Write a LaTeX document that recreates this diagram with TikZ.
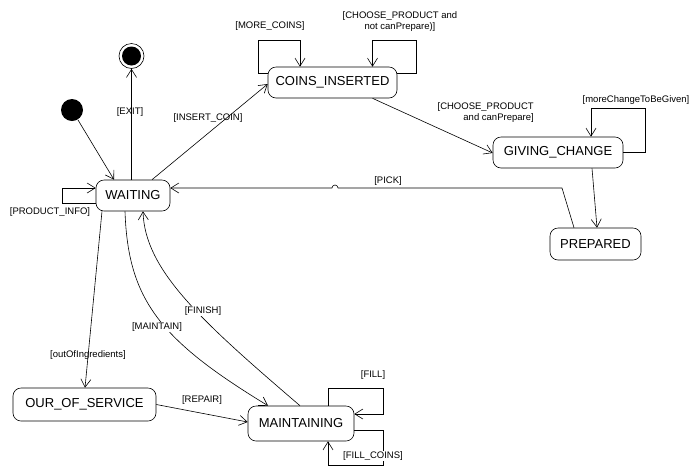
\documentclass[tikz,border=0pt]{standalone}
\usepackage{fontspec}
\setmainfont{Liberation Sans}
\usetikzlibrary{arrows.meta}

\begin{document}
\begin{tikzpicture}[x=1pt, y=-1pt, line width=0.6pt,
    state/.style={draw, rounded corners=8pt, inner sep=0pt, font=\fontsize{13}{15}\selectfont},
    lbl/.style={font=\fontsize{9.5}{11}\selectfont, inner sep=1pt},
    >={Straight Barb[length=8pt, width=10pt]}]
  \useasboundingbox (0,0) rectangle (698,475);

  % states
  \node (waiting) [state, minimum width=74pt, minimum height=31pt] at (133,195.5) {WAITING};
  \node (coins) [state, minimum width=129pt, minimum height=31pt] at (332.5,82.5) {COINS\_INSERTED};
  \node (change) [state, minimum width=130pt, minimum height=31pt] at (558,152.5) {GIVING\_CHANGE};
  \node (prepared) [state, minimum width=91pt, minimum height=32pt] at (595.5,244) {PREPARED};
  \node (service) [state, minimum width=143pt, minimum height=33pt] at (84.5,404.5) {OUR\_OF\_SERVICE};
  \node (maint) [state, minimum width=106pt, minimum height=35pt] at (301,423.5) {MAINTAINING};
  \node (init) [circle, fill, inner sep=0pt, minimum size=22pt] at (72,110) {};
  \node (final) [circle, draw, inner sep=0pt, minimum size=25pt] at (131.5,56) {};
  \fill (final.center) circle[radius=9.5pt];

  % labels
  \node (exitlbl) [lbl, fill=white] at (130,112) {[EXIT]};
  \node (insertlbl) [lbl, fill=white] at (208,118) {[INSERT\_COIN]};
  \node (morelbl) [lbl] at (270,26) {[MORE\_COINS]};
  \node (notlbl) [lbl, align=center] at (400,22) {[CHOOSE\_PRODUCT and\\not canPrepare)]};
  \node (canlbl) [lbl, align=right, anchor=east] at (535,113) {[CHOOSE\_PRODUCT\\and canPrepare]};
  \node (givenlbl) [lbl] at (636,100) {[moreChangeToBeGiven]};
  \node (picklbl) [lbl] at (388,181) {[PICK]};
  \node (infolbl) [lbl] at (50,212) {[PRODUCT\_INFO]};
  \node (outlbl) [lbl] at (88,355) {[outOfIngredients]};
  \node (repairlbl) [lbl] at (202,400) {[REPAIR]};
  \node (filllbl) [lbl] at (373,375) {[FILL]};

  % transitions
  \draw[->] (init) -- ([xshift=-19pt]waiting.north);
  \draw[->] (waiting.north -| final) -- (final);
  \draw[->] ([xshift=19pt]waiting.north) -- ([yshift=-1.5pt]coins.west);
  \draw[->] ([yshift=9pt]coins.west) -| (258,40) -| ([xshift=-32.5pt]coins.north);
  \draw[->] ([yshift=9pt]coins.east) -| (416,40) -| ([xshift=40pt]coins.north);
  \draw[->] ([xshift=40pt]coins.south) -- ([yshift=-0.5pt]change.west);
  \draw[->] (change.east) -| (645,108) -| ([xshift=33pt]change.north);
  \draw[->] ([xshift=34pt]change.south) -- ([xshift=1.5pt]prepared.north);
  \draw[->] ([xshift=-21.5pt]prepared.north) -- (562,188) -- (338,188)
    arc[start angle=0, end angle=180, radius=3pt] -- ([yshift=7.5pt]waiting.east);
  \draw[->] ([yshift=-7.5pt]waiting.west) -| (62,188) -- ([yshift=7.5pt]waiting.west);
  \draw[->] ([xshift=-31pt]waiting.south) -- ([xshift=0.5pt]service.north);
  \draw[->] ([xshift=-8pt]waiting.south) .. controls (128,300) and (160,340) .. ([xshift=-33pt]maint.north);
  \draw[->] ([xshift=-1pt]maint.north) .. controls (200,320) and (145,270) .. ([xshift=10pt]waiting.south);
  \draw[->] (service.east) -- ([yshift=1.5pt]maint.west);
  \draw[->] ([xshift=27pt]maint.north) |- (383,388) |- ([yshift=9.5pt]maint.east);
  \draw[->] ([yshift=-6.5pt]maint.east) -| (383,465) -| ([xshift=27pt]maint.south);

  % labels cutting their lines
  \node (maintlbl) [lbl, fill=white] at (157,327) {[MAINTAIN]};
  \node (finishlbl) [lbl, fill=white] at (203,311) {[FINISH]};
  \node (coinslbl) [lbl, fill=white] at (373,456) {[FILL\_COINS]};
\end{tikzpicture}
\end{document}
